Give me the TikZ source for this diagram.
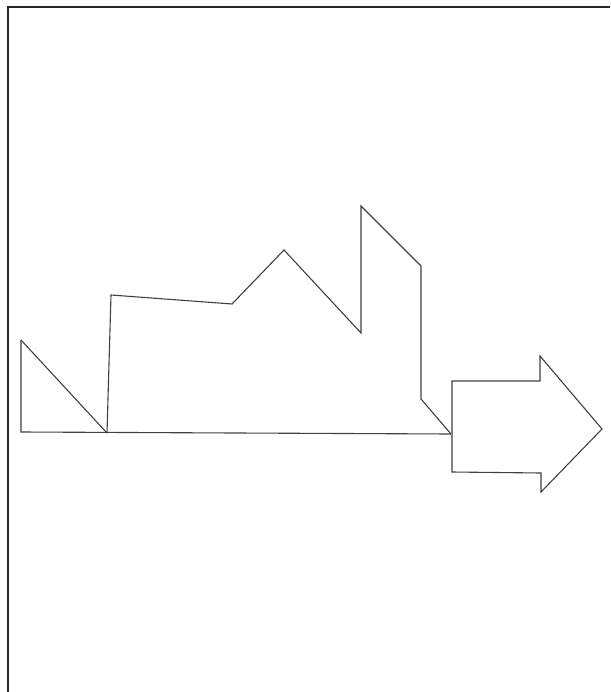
\documentclass[tikz,border=0pt]{standalone}
\begin{document}
\begin{tikzpicture}[x=1pt,y=-1pt,
  outline/.style={draw=black!75,line width=1.1pt,line join=miter},
  frame/.style={draw=black!85,line width=2pt}]
\useasboundingbox (0,0) rectangle (610,692);
% frame (open on right and bottom)
\draw[frame] (8,692) -- (8,7) -- (610,7);
% coordinates
\coordinate (tl) at (21,340);
\coordinate (b0) at (21,432);
\coordinate (b1) at (107,433);
\coordinate (c1) at (111,295);
\coordinate (c2) at (232,304);
\coordinate (p1) at (284,250);
\coordinate (v1) at (361,333);
\coordinate (v2) at (361,206);
\coordinate (s1) at (421,266);
\coordinate (s2) at (421,399);
\coordinate (b2) at (451,434);
% skyline
\draw[outline] (tl) -- (b0) -- (b2);
\draw[outline] (tl) -- (b1);
\draw[outline] (b1) -- (c1) -- (c2) -- (p1) -- (v1) -- (v2) -- (s1) -- (s2) -- (b2);
% arrow
\draw[outline] (452,381) -- (540,381) -- (540,356) -- (602,429) -- (541,492) -- (541,473) -- (452,472) -- cycle;
\end{tikzpicture}
\end{document}
